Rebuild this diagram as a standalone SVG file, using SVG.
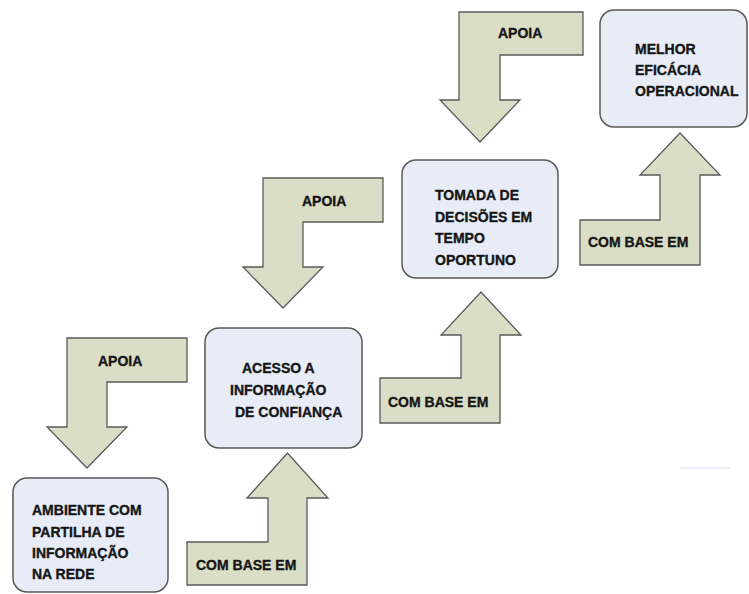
<svg xmlns="http://www.w3.org/2000/svg" width="749" height="594" viewBox="0 0 749 594">
  <style>
    .box { fill: #e7ecf6; stroke: #5a5a5a; stroke-width: 1.5; }
    .arrow { fill: #dadec7; stroke: #5a5a5a; stroke-width: 1.3; stroke-linejoin: miter; }
    text { font-family: "Liberation Sans", Arial, sans-serif; font-weight: bold; font-size: 14px; fill: #161616; stroke: #161616; stroke-width: 0.35; }
  </style>
  <rect width="749" height="594" fill="#ffffff"/>

  <!-- connectors: "supports" (down) and "based on" (up) bent arrows -->
  <g id="connectors">
    <g id="apoia-1">
      <path class="arrow" d="M67,338 H187 V382 H107 V427 H127 L87,468 L47,427 H67 Z"/>
      <text x="98" y="366">APOIA</text>
    </g>
    <g id="apoia-2">
      <path class="arrow" d="M263,178 H383 V222 H303 V267 H323 L283,308 L243,267 H263 Z"/>
      <text x="302" y="206">APOIA</text>
    </g>
    <g id="apoia-3">
      <path class="arrow" d="M459,12 H583 V55 H500 V100 H520 L480,142 L440,100 H459 Z"/>
      <text x="498" y="38">APOIA</text>
    </g>
    <g id="base-1">
      <path class="arrow" d="M187,585 V542 H268 V498 H247 L287.5,453 L328,498 H307 V585 Z"/>
      <text x="196" y="570">COM BASE EM</text>
    </g>
    <g id="base-2">
      <path class="arrow" d="M380,423 V378 H461 V335 H441 L481,292 L521,335 H500 V423 Z"/>
      <text x="388" y="407">COM BASE EM</text>
    </g>
    <g id="base-3">
      <path class="arrow" d="M580,265 V220 H660 V175 H640 L680,133 L720,175 H700 V265 Z"/>
      <text x="588" y="247">COM BASE EM</text>
    </g>
  </g>

  <g id="node-ambiente">
    <rect class="box" x="13" y="478" width="155" height="114" rx="14"/>
    <text x="32" y="515">AMBIENTE COM</text>
    <text x="32" y="537">PARTILHA DE</text>
    <text x="32" y="558">INFORMAÇÃO</text>
    <text x="32" y="579">NA REDE</text>
  </g>

  <g id="node-acesso">
    <rect class="box" x="205" y="328" width="157" height="120" rx="14"/>
    <text x="242" y="373">ACESSO A</text>
    <text x="230" y="395">INFORMAÇÃO</text>
    <text x="235" y="417">DE CONFIANÇA</text>
  </g>

  <g id="node-tomada">
    <rect class="box" x="402" y="160" width="156" height="118" rx="14"/>
    <text x="435" y="200">TOMADA DE</text>
    <text x="435" y="222">DECISÕES EM</text>
    <text x="435" y="243">TEMPO</text>
    <text x="435" y="265">OPORTUNO</text>
  </g>

  <g id="node-melhor">
    <rect class="box" x="600" y="10" width="147" height="117" rx="14"/>
    <text x="635" y="54">MELHOR</text>
    <text x="635" y="75">EFICÁCIA</text>
    <text x="635" y="96">OPERACIONAL</text>
  </g>

  <line x1="680" y1="468" x2="730" y2="468" stroke="#e4e8f0" stroke-width="1.5"/>
</svg>
